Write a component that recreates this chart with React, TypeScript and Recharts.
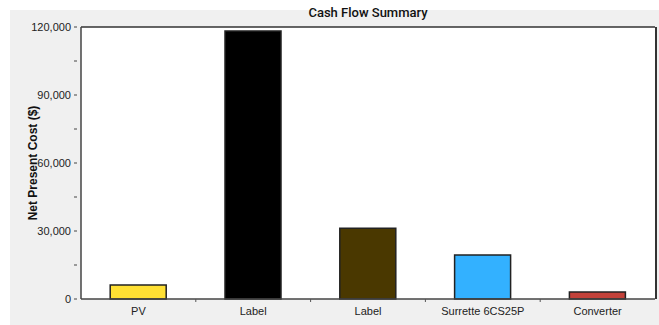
import React from "react";
import {
  BarChart,
  Bar,
  XAxis,
  YAxis,
  CartesianGrid,
  Cell,
  ReferenceLine,
} from "recharts";

const categories = ["PV", "Label", "Label", "Surrette 6CS25P", "Converter"];
const netPresentCost = [6200, 118200, 31200, 19400, 3100];
const barColors = ["#FFE033", "#000000", "#4A3800", "#33B1FF", "#C3423A"];
const yTicks = [0, 15000, 30000, 45000, 60000, 75000, 90000, 105000, 120000];
const majorTicks = [30000, 60000, 90000];

const data = categories.map((name, i) => ({ name, value: netPresentCost[i] }));

const FONT = "'Liberation Sans', Arial, sans-serif";

const YTick = (props: any) => {
  const { x, y, payload } = props;
  const v = payload.value as number;
  const major = v % 30000 === 0;
  return (
    <g>
      <line x1={x + 1} x2={x + 4} y1={y} y2={y} stroke="#444" strokeWidth={1} />
      {major && (
        <text
          x={x - 2}
          y={y}
          dy={4}
          textAnchor="end"
          fontSize={11}
          fontFamily={FONT}
          fill="#222"
        >
          {v.toLocaleString("en-US")}
        </text>
      )}
    </g>
  );
};

const XTick = (props: any) => {
  const { x, y, payload, index } = props;
  const off = payload.offset || 0;
  return (
    <g>
      {index < categories.length - 1 && (
        <line x1={x + off} x2={x + off} y1={y - 8} y2={y - 5} stroke="#555" />
      )}
      <text
        x={x}
        y={y}
        dy={8}
        textAnchor="middle"
        fontSize={11}
        fontFamily={FONT}
        fill="#222"
      >
        {payload.value}
      </text>
    </g>
  );
};

const YLabel = (props: any) => {
  const { viewBox } = props;
  const cy = viewBox.y + viewBox.height / 2;
  const cx = 33;
  return (
    <text
      x={cx}
      y={cy}
      transform={`rotate(-90, ${cx}, ${cy})`}
      textAnchor="middle"
      dominantBaseline="central"
      fontSize={12}
      fontWeight="bold"
      fontFamily={FONT}
      fill="#111"
    >
      Net Present Cost ($)
    </text>
  );
};

export default function App() {
  return (
    <div
      style={{
        position: "absolute",
        left: 0,
        top: 0,
        width: 659,
        height: 325,
        background: "#ffffff",
      }}
    >
      <div
        style={{
          position: "absolute",
          left: 10,
          top: 10,
          width: 649,
          height: 315,
          background: "#F0F0F0",
        }}
      />
      <div
        style={{
          position: "absolute",
          left: 0,
          top: 5,
          width: 736,
          textAlign: "center",
          fontFamily: "Roboto, sans-serif",
          fontWeight: 500,
          fontSize: 13,
          color: "#111",
        }}
      >
        Cash Flow Summary
      </div>
      <div style={{ position: "absolute", left: 0, top: 0 }}>
        <BarChart
          width={659}
          height={325}
          data={data}
          margin={{ top: 27, right: 4, bottom: 0, left: 0 }}
          barCategoryGap="25%"
        >
          <rect x={81} y={27} width={574} height={272} fill="#ffffff" />
          <CartesianGrid
            stroke="#EBEBEB"
            strokeWidth={1}
            horizontalValues={yTicks}
            verticalCoordinatesGenerator={({ offset }: any) =>
              categories
                .slice(1)
                .map((_, i) => offset.left + ((i + 1) * offset.width) / categories.length)
            }
          />
          <CartesianGrid
            stroke="#A8A8A8"
            strokeWidth={1}
            vertical={false}
            horizontalValues={majorTicks}
          />
          <ReferenceLine y={120000} stroke="#333" strokeWidth={1.5} />
          <XAxis
            dataKey="name"
            height={26}
            axisLine={{ stroke: "#444", strokeWidth: 1.5 }}
            tickLine={false}
            tick={<XTick />}
            interval={0}
          />
          <YAxis
            width={81}
            domain={[0, 120000]}
            ticks={yTicks}
            interval={0}
            axisLine={{ stroke: "#444", strokeWidth: 1.5 }}
            tickLine={false}
            tick={<YTick />}
            label={<YLabel />}
          />
          <Bar
            dataKey="value"
            isAnimationActive={false}
            stroke="#222"
            strokeWidth={1.5}
            maxBarSize={56}
          >
            {data.map((d, i) => (
              <Cell key={i} fill={barColors[i]} />
            ))}
          </Bar>
        </BarChart>
      </div>
      <div
        style={{
          position: "absolute",
          left: 655,
          top: 27,
          width: 1.5,
          height: 272,
          background: "#333",
        }}
      />
    </div>
  );
}
